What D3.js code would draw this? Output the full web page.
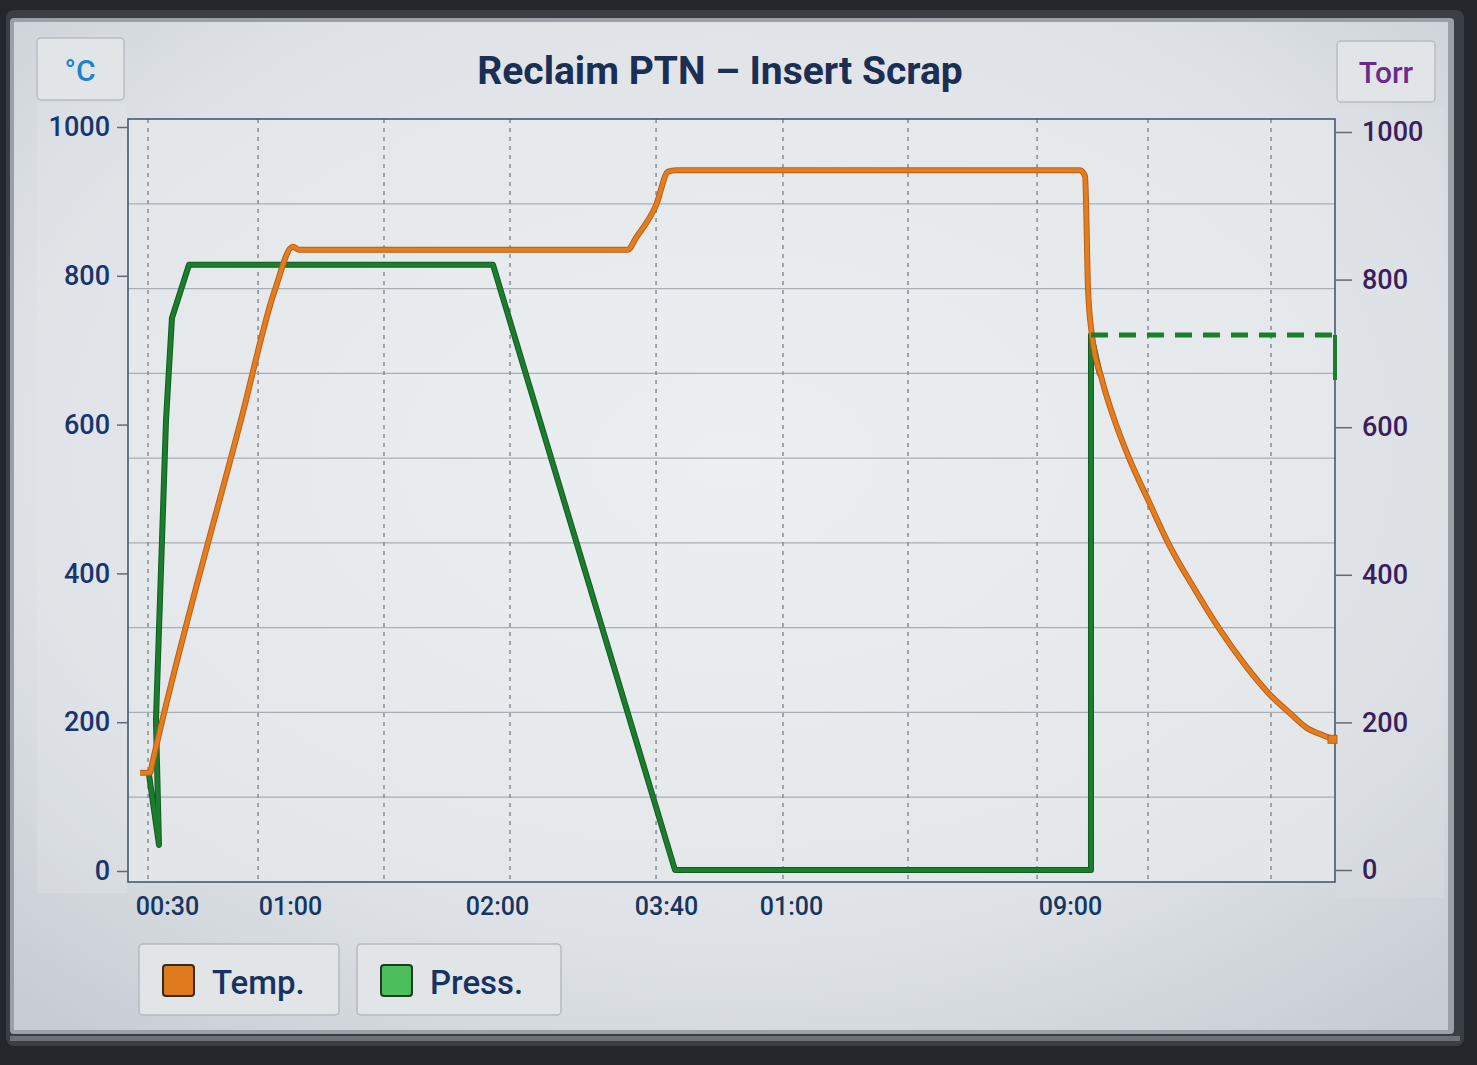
<!DOCTYPE html>
<html>
<head>
<meta charset="utf-8">
<script src="https://cdn.jsdelivr.net/npm/d3@7"></script>
<style>
  html, body { margin: 0; padding: 0; background: #22262b; }
  svg { display: block; }
  text { font-family: Roboto, "Open Sans", "DejaVu Sans", sans-serif; }
</style>
</head>
<body>
<svg id="chart" width="1477" height="1065"></svg>
<script>
// ---------------- DATA ----------------
const chartTitle = "Reclaim PTN – Insert Scrap";
const leftUnit = "°C";
const rightUnit = "Torr";
const seriesNames = ["Temp.", "Press."];

// time axis (arbitrary run-time units, 0..120)
const timeDomain = [0, 120];
const timeTickPos = [3.88, 16.11, 36.69, 53.49, 65.92, 93.66];
const timeTickLabels = ["00:30", "01:00", "02:00", "03:40", "01:00", "09:00"];
const timeGridPos = [1.99, 12.93, 25.45, 37.98, 52.50, 65.12, 77.55, 90.38, 101.41, 113.64];

const tempTicks = [0, 200, 400, 600, 800, 1000];
const pressTicks = [0, 200, 400, 600, 800, 1000];

// Temperature (°C)
const tempTime   = [1.2, 2.2, 2.4, 11.3, 14.6, 16.4, 17.0, 49.7, 50.5, 52.5, 53.7, 54.5, 94.65, 95.15, 95.45, 95.84, 96.84, 98.13, 99.62, 101.41, 103.6, 106.08, 108.57, 111.05, 113.74, 115.53, 117.22, 118.51, 119.8];
const tempValues = [132, 132, 144, 610, 781, 839, 835, 835, 851, 895, 940, 942, 942, 934, 781, 720, 660, 604, 552, 499, 436, 378, 324, 277, 234, 212, 192, 184, 177];

// Pressure (Torr)
const pressTime   = [2.09, 3.08, 2.78, 3.18, 3.78, 4.37, 6.06, 36.29, 54.38, 95.74, 95.74, 96.64];
const pressValues = [129, 34, 203, 366, 610, 748, 820, 820, 0, 0, 725, 671];

// Pressure set-point (dashed) and hold segment
const ventTime = [95.74, 120];
const ventValues = [725, 725];
const holdTime = [120, 120];
const holdValues = [725, 664];

// ---------------- LAYOUT ----------------
const W = 1477, H = 1065;
const plot = { left: 128, right: 1335, top: 119, bottom: 882 };

const svg = d3.select("#chart");
const defs = svg.append("defs");

const sg = defs.append("radialGradient").attr("id", "screenGrad")
  .attr("cx", "50%").attr("cy", "42%").attr("r", "75%");
sg.append("stop").attr("offset", "0%").attr("stop-color", "#e8ebee");
sg.append("stop").attr("offset", "65%").attr("stop-color", "#dfe3e7");
sg.append("stop").attr("offset", "100%").attr("stop-color", "#c6ccd2");

const pg = defs.append("radialGradient").attr("id", "plotGrad")
  .attr("cx", "50%").attr("cy", "45%").attr("r", "70%");
pg.append("stop").attr("offset", "0%").attr("stop-color", "#eceff1");
pg.append("stop").attr("offset", "100%").attr("stop-color", "#e2e6e9");

// bezel
svg.append("rect").attr("x", 0).attr("y", 0).attr("width", W).attr("height", H).attr("fill", "#23272c");
svg.append("rect").attr("x", 6).attr("y", 10).attr("width", 1458).attr("height", 1036).attr("rx", 8)
  .attr("fill", "#3a3f45");
svg.append("rect").attr("x", 10).attr("y", 1036).attr("width", 1450).attr("height", 5).attr("fill", "#6c7176");
svg.append("rect").attr("x", 10).attr("y", 18).attr("width", 1444).attr("height", 1016).attr("rx", 4)
  .attr("fill", "#9aa0a6");
// screen
svg.append("rect").attr("x", 14).attr("y", 22).attr("width", 1434).attr("height", 1008)
  .attr("fill", "url(#screenGrad)");

// side panels behind axis labels
svg.append("rect").attr("x", 37).attr("y", 103).attr("width", 90).attr("height", 790)
  .attr("fill", "#e4e8eb").attr("opacity", 0.3);
svg.append("rect").attr("x", 1336).attr("y", 108).attr("width", 108).attr("height", 790)
  .attr("fill", "#dde2e6").attr("opacity", 0.3);

// scales
const x = d3.scaleLinear().domain(timeDomain).range([plot.left, plot.right]);
const yT = d3.scaleLinear().domain([0, 1000]).range([871, 127]);
const yP = d3.scaleLinear().domain([0, 1000]).range([870, 132]);
const gridRows = d3.scaleLinear().domain([0, 9]).range([plot.bottom, plot.top]);

// plot background
svg.append("rect").attr("x", plot.left).attr("y", plot.top)
  .attr("width", plot.right - plot.left).attr("height", plot.bottom - plot.top)
  .attr("fill", "url(#plotGrad)");

// horizontal grid
svg.append("g").selectAll("line").data(d3.range(1, 9)).join("line")
  .attr("x1", plot.left).attr("x2", plot.right)
  .attr("y1", d => gridRows(d)).attr("y2", d => gridRows(d))
  .attr("stroke", "#a7aeb5").attr("stroke-width", 1.2);

// vertical dashed grid
svg.append("g").selectAll("line").data(timeGridPos).join("line")
  .attr("x1", d => x(d)).attr("x2", d => x(d))
  .attr("y1", plot.top).attr("y2", plot.bottom)
  .attr("stroke", "#7d8792").attr("stroke-width", 1.4).attr("stroke-dasharray", "4,5");

// plot border
svg.append("rect").attr("x", plot.left).attr("y", plot.top)
  .attr("width", plot.right - plot.left).attr("height", plot.bottom - plot.top)
  .attr("fill", "none").attr("stroke", "#44596f").attr("stroke-width", 1.6);

// left axis
const gL = svg.append("g").attr("transform", `translate(${plot.left},0)`)
  .call(d3.axisLeft(yT).tickValues(tempTicks).tickSize(11).tickPadding(7).tickFormat(d3.format("d")));
gL.select(".domain").remove();
gL.selectAll(".tick line").attr("stroke", "#5d6b7a").attr("stroke-width", 1.5);
gL.selectAll(".tick text").attr("fill", "#17356f").attr("font-size", 27).attr("font-weight", 500);

// right axis
const gR = svg.append("g").attr("transform", `translate(${plot.right},0)`)
  .call(d3.axisRight(yP).tickValues(pressTicks).tickSize(17).tickPadding(10).tickFormat(d3.format("d")));
gR.select(".domain").remove();
gR.selectAll(".tick line").attr("stroke", "#5d6b7a").attr("stroke-width", 1.5);
gR.selectAll(".tick text").attr("fill", "#3b1d5c").attr("font-size", 27).attr("font-weight", 500);

// bottom axis
const gB = svg.append("g").attr("transform", `translate(0,${plot.bottom})`)
  .call(d3.axisBottom(x).tickValues(timeTickPos).tickSize(0).tickPadding(15)
    .tickFormat((d, i) => timeTickLabels[i]));
gB.select(".domain").remove();
gB.selectAll(".tick text").attr("fill", "#153663").attr("font-size", 25).attr("font-weight", 500);

// series
const tempLine = d3.line().x((d, i) => x(tempTime[i])).y(d => yT(d)).curve(d3.curveMonotoneX);
const pressLine = d3.line().x((d, i) => x(pressTime[i])).y(d => yP(d));
const ventLine = d3.line().x((d, i) => x(ventTime[i])).y(d => yP(d));
const holdLine = d3.line().x((d, i) => x(holdTime[i])).y(d => yP(d));

const orange = "#e57d1e", orangeDark = "#b9601a";
const green = "#1b7d2d", greenDark = "#135c22";

// pressure
svg.append("path").attr("d", pressLine(pressValues)).attr("fill", "none")
  .attr("stroke", greenDark).attr("stroke-width", 6).attr("stroke-linejoin", "round");
svg.append("path").attr("d", pressLine(pressValues)).attr("fill", "none")
  .attr("stroke", green).attr("stroke-width", 4).attr("stroke-linejoin", "round");
svg.append("path").attr("d", holdLine(holdValues)).attr("fill", "none")
  .attr("stroke", green).attr("stroke-width", 4);

// temperature
svg.append("path").attr("d", tempLine(tempValues)).attr("fill", "none")
  .attr("stroke", orangeDark).attr("stroke-width", 6).attr("stroke-linejoin", "round");
svg.append("path").attr("d", tempLine(tempValues)).attr("fill", "none")
  .attr("stroke", orange).attr("stroke-width", 4).attr("stroke-linejoin", "round");
// end marker
const lastI = tempValues.length - 1;
svg.append("rect").attr("x", x(tempTime[lastI]) - 5).attr("y", yT(tempValues[lastI]) - 4)
  .attr("width", 9).attr("height", 8).attr("fill", orange).attr("stroke", orangeDark).attr("stroke-width", 1);

// dashed set-point
svg.append("path").attr("d", ventLine(ventValues)).attr("fill", "none")
  .attr("stroke", green).attr("stroke-width", 5).attr("stroke-dasharray", "17,11");

// title
svg.append("text").attr("x", 720).attr("y", 84).attr("text-anchor", "middle")
  .attr("font-size", 39).attr("font-weight", 700).attr("fill", "#1b2e54").text(chartTitle);

// unit boxes
svg.append("rect").attr("x", 37).attr("y", 38).attr("width", 87).attr("height", 62).attr("rx", 4)
  .attr("fill", "#e1e5e8").attr("stroke", "#b6bdc4").attr("stroke-width", 1.5);
svg.append("text").attr("x", 80).attr("y", 81).attr("text-anchor", "middle")
  .attr("font-size", 30).attr("font-weight", 500).attr("fill", "#2080d2").text(leftUnit);
svg.append("rect").attr("x", 1337).attr("y", 41).attr("width", 98).attr("height", 61).attr("rx", 4)
  .attr("fill", "#e1e5e8").attr("stroke", "#b6bdc4").attr("stroke-width", 1.5);
svg.append("text").attr("x", 1386).attr("y", 83).attr("text-anchor", "middle")
  .attr("font-size", 30).attr("font-weight", 500).attr("fill", "#6b2a8c").text(rightUnit);

// legend
const legendColors = [["#e07a1f", "#3a2a1a"], ["#4cbf5c", "#1f3a25"]];
const legendBoxes = [{ x: 139, w: 200 }, { x: 357, w: 204 }];
seriesNames.forEach((name, i) => {
  const b = legendBoxes[i];
  svg.append("rect").attr("x", b.x).attr("y", 944).attr("width", b.w).attr("height", 71).attr("rx", 4)
    .attr("fill", "#e2e5e8").attr("stroke", "#b3bac1").attr("stroke-width", 1.5);
  svg.append("rect").attr("x", b.x + 24).attr("y", 965).attr("width", 31).attr("height", 31).attr("rx", 3)
    .attr("fill", legendColors[i][0]).attr("stroke", legendColors[i][1]).attr("stroke-width", 2);
  svg.append("text").attr("x", b.x + 73).attr("y", 994)
    .attr("font-size", 33).attr("font-weight", 500).attr("fill", "#163463").text(name);
});
</script>
</body>
</html>
